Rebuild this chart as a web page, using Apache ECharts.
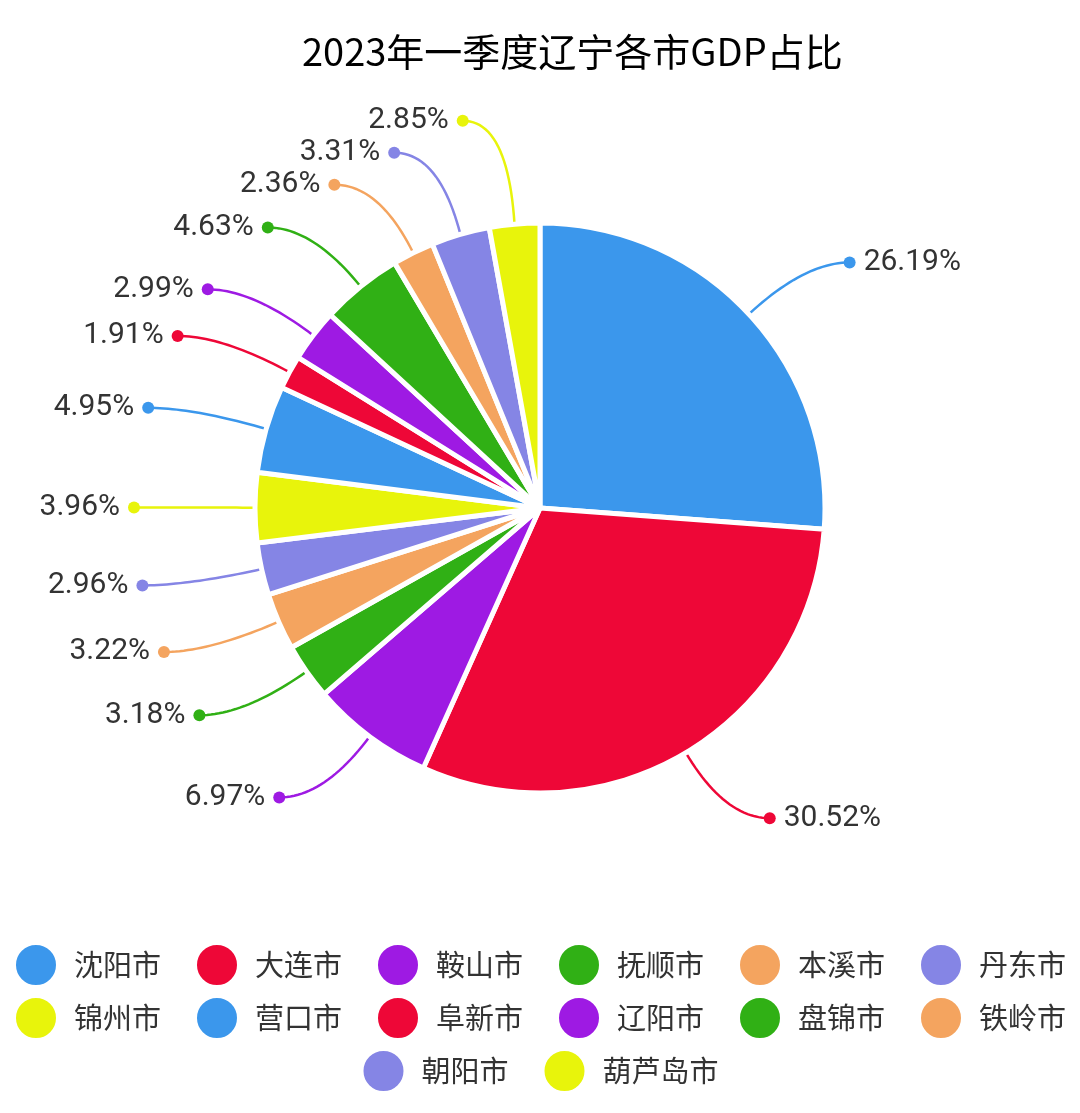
<!DOCTYPE html>
<html><head><meta charset="utf-8">
<script src="https://cdn.jsdelivr.net/npm/echarts@6/dist/echarts.min.js"></script>
<style>html,body{margin:0;padding:0;background:#fff}#c{width:1080px;height:1113px}</style>
</head><body><div id="c"></div>
<script>
const titleText = '2023年一季度辽宁各市GDP占比';
const cities = ['沈阳市','大连市','鞍山市','抚顺市','本溪市','丹东市','锦州市','营口市','阜新市','辽阳市','盘锦市','铁岭市','朝阳市','葫芦岛市'];
const shares = [26.19,30.52,6.97,3.18,3.22,2.96,3.96,4.95,1.91,2.99,4.63,2.36,3.31,2.85];
const palette = ['#3b97ec','#ee0737','#9e1ae3','#30b015','#f4a45f','#8585e5','#e8f40b'];
const legendRows = [cities.slice(0,6), cities.slice(6,12), cities.slice(12)];

// layout constants
const CX = 540, CY = 508, R = 285, L1 = 76, L2 = 45, GAP = 32, DOT = 6;

// label geometry derived from the data (angles) and layout constants
const total = shares.reduce((a,b)=>a+b,0);
const geo = [];
let cum = 0;
shares.forEach(v => {
  const th = (cum + v/2) / total * Math.PI * 2; cum += v;
  const sx = Math.sin(th), sy = -Math.cos(th);
  geo.push({ side: sx >= 0 ? 'r' : 'l',
    E: [CX + R*sx, CY + R*sy], P: [CX + (R+L1)*sx, CY + (R+L1)*sy] });
});
geo.forEach(g => g.y = g.P[1]);
// left side: resolve overlaps from bottom to top, pushing upward
const leftIdx = geo.map((g,i)=>i).filter(i=>geo[i].side==='l').sort((a,b)=>geo[b].P[1]-geo[a].P[1]);
let prevY = Infinity;
leftIdx.forEach(i => { const y = Math.min(geo[i].P[1], prevY - GAP); geo[i].y = y; prevY = y; });
// right side: top to bottom, pushing downward
const rightIdx = geo.map((g,i)=>i).filter(i=>geo[i].side==='r').sort((a,b)=>geo[a].P[1]-geo[b].P[1]);
prevY = -Infinity;
rightIdx.forEach(i => { const y = Math.max(geo[i].P[1], prevY + GAP); geo[i].y = y; prevY = y; });
geo.forEach(g => {
  const dir = g.side === 'r' ? 1 : -1;
  g.Q = [g.P[0], g.y];
  g.D = [g.P[0] + dir*L2, g.y];
  const pts = [];
  const N = 24;
  for (let k = 0; k <= N; k++) {
    const t = k / N, a = (1-t)*(1-t), b = 2*t*(1-t), c = t*t;
    pts.push([a*g.E[0] + b*g.Q[0] + c*g.D[0], a*g.E[1] + b*g.Q[1] + c*g.D[1]]);
  }
  g.pts = pts;
});

const rich = { v: { fontSize: 30, color: '#333', fontFamily: 'Roboto', padding: [0,8,0,8] } };
palette.forEach((c,i) => { rich['d'+i] = { width: 12, height: 12, borderRadius: 6, backgroundColor: c }; });

const chart = echarts.init(document.getElementById('c'));
chart.setOption({
  color: palette,
  animation: false,
  title: { text: titleText, left: 297, top: 28,
    textStyle: { fontSize: 38, fontWeight: 'normal', color: '#000', fontFamily: 'Noto Sans CJK SC' } },
  legend: legendRows.map((row, i) => ({
    data: row, left: 'center', top: 938 + i*53, icon: 'circle',
    itemWidth: 42, itemHeight: 42, itemGap: 34,
    textStyle: { fontSize: 29, color: '#333', fontFamily: 'Noto Sans CJK SC', padding: [0,0,0,12] }
  })),
  series: [{
    type: 'pie', center: [CX, CY], radius: R, startAngle: 90, clockwise: true,
    itemStyle: { borderColor: '#fff', borderWidth: 5 },
    label: {
      show: true, distanceToLabelLine: 0, rich: rich,
      formatter: p => {
        const d = '{d' + (p.dataIndex % palette.length) + '|}';
        const t = '{v|' + p.percent.toFixed(2) + '%}';
        return geo[p.dataIndex].side === 'r' ? d + t : t + d;
      }
    },
    labelLine: { show: true, length: L1, length2: L2, smooth: false, lineStyle: { width: 2.5 } },
    labelLayout: params => {
      const g = geo[params.dataIndex];
      const r = g.side === 'r';
      return {
        x: g.D[0] + (r ? -DOT : DOT), y: g.D[1],
        align: r ? 'left' : 'right', verticalAlign: 'middle',
        labelLinePoints: g.pts
      };
    },
    data: cities.map((n,i) => ({ name: n, value: shares[i] }))
  }]
});
</script></body></html>
